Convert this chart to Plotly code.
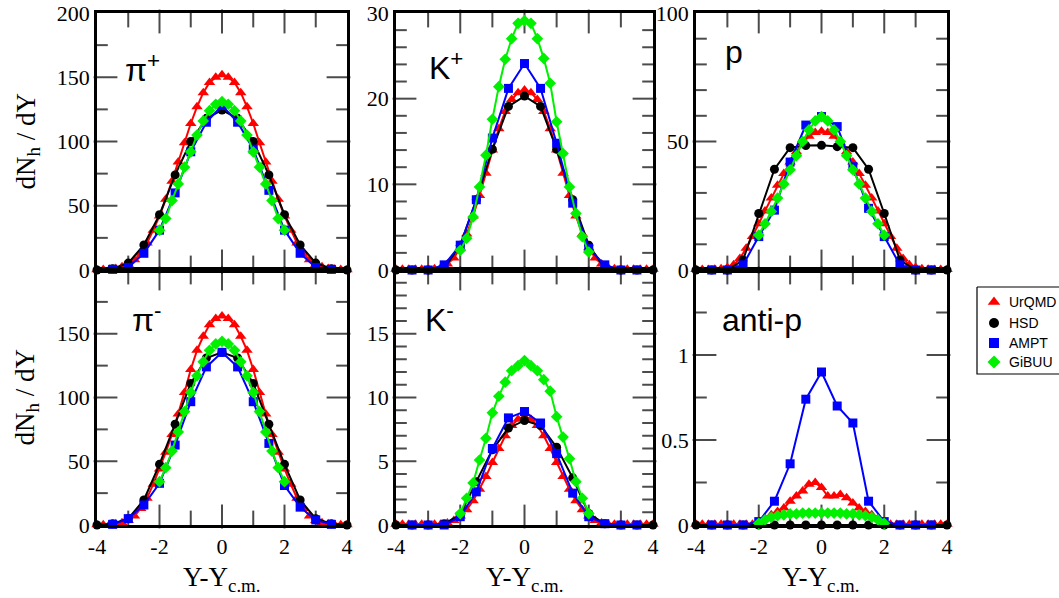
import plotly.graph_objects as go

# ---------------- data ----------------
X_UR = [-4.0, -3.8, -3.6, -3.4, -3.2, -3.0, -2.8, -2.6, -2.4, -2.2, -2.0, -1.8, -1.6, -1.4, -1.2, -1.0,
        -0.8, -0.6, -0.4, -0.2, 0.0, 0.2, 0.4, 0.6, 0.8, 1.0, 1.2, 1.4, 1.6, 1.8, 2.0, 2.2, 2.4, 2.6,
        2.8, 3.0, 3.2, 3.4, 3.6, 3.8, 4.0]
X_HSD = [-4.0, -3.5, -3.0, -2.5, -2.0, -1.5, -1.0, -0.5, 0.0, 0.5, 1.0, 1.5, 2.0, 2.5, 3.0, 3.5, 4.0]
X_AMPT = [-3.5, -3.0, -2.5, -2.0, -1.5, -1.0, -0.5, 0.0, 0.5, 1.0, 1.5, 2.0, 2.5, 3.0, 3.5]
X_GIB = [-2.0, -1.8, -1.6, -1.4, -1.2, -1.0, -0.8, -0.6, -0.4, -0.2, 0.0, 0.2, 0.4, 0.6, 0.8, 1.0,
         1.2, 1.4, 1.6, 1.8, 2.0]

# pi+
UR_PIP = [0.2, 0.3, 0.6, 1.2, 2.5, 4.5, 8, 13, 21, 31, 42, 55, 69, 84, 99, 114, 127, 138, 146, 150, 152,
          150, 146, 138, 127, 114, 99, 84, 69, 55, 42, 31, 21, 13, 8, 4.5, 2.5, 1.2, 0.6, 0.3, 0.2]
HSD_PIP = [0, 1, 5.4, 19.5, 43, 74, 100, 118, 124.5, 118, 100, 74, 43, 19.5, 5.4, 1, 0]
AMPT_PIP = [0.5, 2, 13, 31, 60, 92, 115, 128, 115, 94, 62, 31, 13, 2, 0.5]
GIB_PIP = [31, 40, 54, 67, 80, 92, 105, 116, 124, 129, 131, 129, 124, 116, 105, 92, 80, 67, 54, 40, 31]

# K+
UR_KP = [0.1, 0.1, 0.1, 0.1, 0.1, 0.1, 0.15, 0.3, 0.7, 1.4, 2.6, 4.2, 6.3, 8.7, 11.3, 14, 16.5, 18.5, 19.9,
         20.7, 21, 20.7, 19.9, 18.5, 16.5, 14, 11.3, 8.7, 6.3, 4.2, 2.6, 1.4, 0.7, 0.3, 0.15, 0.1, 0.1,
         0.1, 0.1, 0.1, 0.1]
HSD_KP = [0, 0, 0, 0.2, 2.9, 8.2, 14.1, 19.1, 20.3, 19.1, 14.1, 8.2, 2.9, 0.2, 0, 0, 0]
AMPT_KP = [0, 0, 0.6, 2.9, 8.2, 15.4, 21.2, 24.1, 21.2, 14.8, 7.8, 2.5, 0.6, 0, 0]
GIB_KP = [2.3, 3.7, 6.2, 9.7, 13.4, 17.6, 21.4, 24.6, 27, 28.8, 29.1, 28.8, 27, 24.7, 21.8, 17.3, 13.6,
          9.7, 6.6, 3.9, 2.1]

# p
UR_P = [0.2, 0.2, 0.2, 0.3, 0.5, 1, 2, 4.5, 8.5, 13, 18, 23, 28, 33, 37.5, 42, 46, 49.5, 52, 53.5, 54,
        53.5, 52, 49.5, 46, 42, 37.5, 33, 28, 23, 18, 13, 8.5, 4.5, 2, 1, 0.5, 0.3, 0.2, 0.2, 0.2]
HSD_P = [0, 0, 0, 3.9, 22, 39.2, 47.6, 48.4, 48.5, 48, 47.6, 39.2, 22, 3.9, 0, 0, 0]
AMPT_P = [0, 0, 2, 13, 23.3, 42, 56.4, 59.7, 55.8, 40.2, 24, 13, 2, 0, 0]
GIB_P = [13.6, 18, 22.8, 28, 33.5, 39, 44.5, 50, 54.5, 58, 59.7, 58, 54.5, 50, 44.5, 39, 33.5, 28, 22.8,
         18, 13.6]

# pi-
UR_PIM = [0.2, 0.2, 0.4, 0.9, 1.8, 3.5, 7, 13, 21, 32, 44, 57, 71, 87, 104, 122, 137, 148, 157, 162, 164,
          162, 157, 148, 137, 122, 104, 87, 71, 57, 44, 32, 21, 13, 7, 3.5, 1.8, 0.9, 0.4, 0.2, 0.2]
HSD_PIM = [0, 1, 5, 19.6, 47.6, 79, 111, 131, 135.4, 131, 111, 79, 47.6, 19.6, 5, 1, 0]
AMPT_PIM = [0.5, 5, 15.7, 32.7, 62.7, 96.7, 124, 135.4, 124, 96.7, 64, 31, 14, 4, 0.5]
GIB_PIM = [34, 45, 58, 73, 89, 104, 117, 128, 137, 142, 144, 142, 137, 128, 117, 104, 89, 73, 58, 45, 34]

# K-
UR_KM = [0.05, 0.05, 0.05, 0.05, 0.05, 0.05, 0.05, 0.08, 0.15, 0.35, 0.7, 1.2, 1.9, 2.8, 3.8, 4.9, 6.0,
         7.0, 7.8, 8.3, 8.5, 8.3, 7.8, 7.0, 6.0, 4.9, 3.8, 2.8, 1.9, 1.2, 0.7, 0.35, 0.15, 0.08, 0.05,
         0.05, 0.05, 0.05, 0.05, 0.05, 0.05]
HSD_KM = [0, 0, 0, 0.1, 0.8, 3.4, 5.9, 7.6, 8.2, 7.8, 6.1, 3.7, 0.9, 0.1, 0, 0, 0]
AMPT_KM = [0, 0, 0, 0.65, 2.6, 6.0, 8.4, 8.9, 8.0, 5.6, 2.5, 0.65, 0.1, 0, 0]
GIB_KM = [0.9, 2.1, 3.3, 5.1, 6.8, 8.8, 10.1, 11.2, 12.1, 12.5, 12.9, 12.5, 12.1, 11.4, 10.5, 8.5, 6.9,
          5.2, 3.4, 2.1, 0.9]

# anti-p
UR_AP = [0.005, 0.005, 0.005, 0.005, 0.005, 0.005, 0.005, 0.005, 0.005, 0.005, 0.02, 0.04, 0.06, 0.08,
         0.1, 0.14, 0.17, 0.2, 0.24, 0.25, 0.22, 0.17, 0.17, 0.18, 0.16, 0.13, 0.1, 0.08, 0.06, 0.04, 0.02,
         0.005, 0.005, 0.005, 0.005, 0.005, 0.005, 0.005, 0.005, 0.005, 0.005]
HSD_AP = [0, 0, 0, 0, 0, 0, 0, 0, 0, 0, 0, 0, 0, 0, 0, 0, 0]
AMPT_AP = [0, 0, 0, 0.02, 0.14, 0.36, 0.74, 0.90, 0.70, 0.60, 0.14, 0.02, 0, 0, 0]
GIB_AP = [0.01, 0.03, 0.045, 0.055, 0.06, 0.065, 0.065, 0.07, 0.07, 0.07, 0.07, 0.07, 0.07, 0.07, 0.065,
          0.065, 0.06, 0.055, 0.045, 0.03, 0.01]

PANEL_LABELS = ["\u03c0<sup>+</sup>", "K<sup>+</sup>", "p", "\u03c0<sup>-</sup>", "K<sup>-</sup>", "anti-p"]
MODELS = ["UrQMD", "HSD", "AMPT", "GiBUU"]
Y_RANGES = [200, 30, 100, 200, 20, 1.5]
# labelled ticks (the top value of the lower row is hidden behind the upper row's 0)
Y_TICKVALS = [[0, 50, 100, 150, 200], [0, 10, 20, 30], [0, 50, 100],
              [0, 50, 100, 150], [0, 5, 10, 15], [0, 0.5, 1]]
Y_TICKTEXT = [["0", "50", "100", "150", "200"], ["0", "10", "20", "30"], ["0", "50", "100"],
              ["0", "50", "100", "150"], ["0", "5", "10", "15"], ["0", "0.5", "1"]]
Y_MAJOR = [50, 10, 50, 50, 5, 0.5]
Y_MINOR = [25, 2, 10, 25, 1, 0.25]
X_RANGE = [-4, 4]
X_TICKVALS = [-4, -2, 0, 2, 4]
X_TICKTEXT = ["-4", "-2", "0", "2", "4"]
X_MAJOR = 2
X_MINOR = 1

PANELS = [
    (UR_PIP, HSD_PIP, AMPT_PIP, GIB_PIP),
    (UR_KP, HSD_KP, AMPT_KP, GIB_KP),
    (UR_P, HSD_P, AMPT_P, GIB_P),
    (UR_PIM, HSD_PIM, AMPT_PIM, GIB_PIM),
    (UR_KM, HSD_KM, AMPT_KM, GIB_KM),
    (UR_AP, HSD_AP, AMPT_AP, GIB_AP),
]

# ---------------- styling ----------------
W, H = 1059, 598
COLORS = ["#ff0000", "#000000", "#0000ff", "#00f000"]
SYMBOLS = ["triangle-up", "circle", "square", "diamond"]
SIZES = [10, 9, 9, 9]
XS = [X_UR, X_HSD, X_AMPT, X_GIB]

COL_PX = [(97, 347), (396, 653), (696, 947)]
ROW_PX = [(13, 270), (270, 525)]
MAJ_LEN, MIN_LEN, X_MIN_LEN = 17, 9, 12

SERIF = "Liberation Serif, Times New Roman, serif"
SANS = "Liberation Sans, Arial, sans-serif"


def steps(lo, hi, step):
    n = int(round((hi - lo) / step))
    return [lo + i * step for i in range(n + 1)]


fig = go.Figure()

for p, series in enumerate(PANELS):
    ax = p + 1
    sfx = "" if ax == 1 else str(ax)
    r, c = divmod(p, 3)
    x0, x1 = COL_PX[c]
    y0, y1 = ROW_PX[r]
    pw, ph = x1 - x0, y1 - y0
    top = Y_RANGES[p]
    xspan = X_RANGE[1] - X_RANGE[0]

    # inward tick marks drawn as line-symbol markers in the panel's own data space
    vx, vy, vs = [], [], []   # vertical ticks on bottom/top edges
    for v in steps(X_RANGE[0], X_RANGE[1], X_MINOR):
        if v in X_RANGE:
            continue
        ln = MAJ_LEN if (v % X_MAJOR == 0) else X_MIN_LEN
        off = (ln / 2) / ph * top
        vx += [v, v]
        vy += [off, top - off]
        vs += [ln, ln]
    hx, hy, hs = [], [], []   # horizontal ticks on left/right edges
    for i, v in enumerate(steps(0, top, Y_MINOR[p])):
        if i == 0 or abs(v - top) < 1e-9:
            continue
        q = v / Y_MAJOR[p]
        ln = MAJ_LEN if abs(q - round(q)) < 1e-6 else MIN_LEN
        off = (ln / 2) / pw * xspan
        hx += [X_RANGE[0] + off, X_RANGE[1] - off]
        hy += [v, v]
        hs += [ln, ln]
    fig.add_trace(go.Scatter(
        x=vx, y=vy, mode="markers", xaxis=f"x{sfx}", yaxis=f"y{sfx}",
        marker=dict(symbol="line-ns", size=vs, color="black", line=dict(color="black", width=2)),
        showlegend=False, hoverinfo="skip", cliponaxis=False,
    ))
    fig.add_trace(go.Scatter(
        x=hx, y=hy, mode="markers", xaxis=f"x{sfx}", yaxis=f"y{sfx}",
        marker=dict(symbol="line-ew", size=hs, color="black", line=dict(color="black", width=2)),
        showlegend=False, hoverinfo="skip", cliponaxis=False,
    ))

    for m in range(4):
        fig.add_trace(go.Scatter(
            x=XS[m], y=series[m], mode="lines+markers",
            line=dict(color=COLORS[m], width=2),
            marker=dict(symbol=SYMBOLS[m], size=SIZES[m], color=COLORS[m], line=dict(width=0)),
            xaxis=f"x{sfx}", yaxis=f"y{sfx}", showlegend=False, cliponaxis=False,
        ))

# custom legend (overlay axis in pixel units)
LEG_BOX = (977, 287, 1066, 374)
LEG_SYM_X = 994
LEG_TEXT_X = 1007
LEG_ROWS_Y = [302, 323, 343, 362]
fig.add_trace(go.Scatter(
    x=[LEG_BOX[0], LEG_BOX[2], LEG_BOX[2], LEG_BOX[0], LEG_BOX[0]],
    y=[LEG_BOX[1], LEG_BOX[1], LEG_BOX[3], LEG_BOX[3], LEG_BOX[1]],
    mode="lines", line=dict(color="black", width=1.2),
    xaxis="x7", yaxis="y7", showlegend=False, hoverinfo="skip", cliponaxis=False,
))
for m in range(4):
    fig.add_trace(go.Scatter(
        x=[LEG_SYM_X], y=[LEG_ROWS_Y[m]], mode="markers",
        marker=dict(symbol=SYMBOLS[m], size=SIZES[m] + 1, color=COLORS[m], line=dict(width=0)),
        xaxis="x7", yaxis="y7", showlegend=False, hoverinfo="skip", cliponaxis=False,
    ))

layout = dict(
    template="none",
    width=W, height=H,
    margin=dict(l=0, r=0, t=0, b=0, pad=0, autoexpand=False),
    paper_bgcolor="white", plot_bgcolor="rgba(0,0,0,0)",
    showlegend=False,
    xaxis7=dict(domain=[0, 1], range=[0, W], visible=False, anchor="y7", fixedrange=True),
    yaxis7=dict(domain=[0, 1], range=[H, 0], visible=False, anchor="x7", fixedrange=True),
)

annotations = []
for m in range(4):
    annotations.append(dict(
        text=MODELS[m], xref="paper", yref="paper", x=LEG_TEXT_X / W, y=1 - LEG_ROWS_Y[m] / H,
        xanchor="left", yanchor="middle", showarrow=False,
        font=dict(family=SANS, size=14, color="black"),
    ))

for p in range(6):
    ax = p + 1
    r, c = divmod(p, 3)
    x0, x1 = COL_PX[c]
    y0, y1 = ROW_PX[r]
    sfx = "" if ax == 1 else str(ax)
    layout[f"xaxis{sfx}"] = dict(
        domain=[x0 / W, x1 / W], anchor=f"y{sfx}", range=X_RANGE, automargin=False,
        showline=True, linecolor="black", linewidth=2.5, mirror=True,
        ticks="", tickmode="array", tickvals=X_TICKVALS, ticktext=X_TICKTEXT,
        showticklabels=(r == 1), tickfont=dict(family=SERIF, size=22, color="black"),
        showgrid=False, zeroline=False, fixedrange=True,
    )
    layout[f"yaxis{sfx}"] = dict(
        domain=[1 - y1 / H, 1 - y0 / H], anchor=f"x{sfx}", range=[0, Y_RANGES[p]], automargin=False,
        showline=True, linecolor="black", linewidth=2.5, mirror=True,
        ticks="", tickmode="array", tickvals=Y_TICKVALS[p], ticktext=Y_TICKTEXT[p],
        tickfont=dict(family=SERIF, size=22, color="black"),
        showgrid=False, zeroline=False, fixedrange=True,
    )

# panel labels
LABEL_POS = [(123, 68), (427, 66), (723, 52), (130, 318), (423, 318), (720, 320)]
for p in range(6):
    lx, ly = LABEL_POS[p]
    annotations.append(dict(
        text=PANEL_LABELS[p], xref="paper", yref="paper", x=lx / W, y=1 - ly / H,
        xanchor="left", yanchor="middle", showarrow=False,
        font=dict(family=SANS, size=32, color="black"),
    ))

# axis titles
for r in range(2):
    y0, y1 = ROW_PX[r]
    annotations.append(dict(
        text="dN<sub>h</sub> / dY", xref="paper", yref="paper",
        x=27 / W, y=1 - ((y0 + y1) / 2) / H, xanchor="center", yanchor="middle",
        textangle=-90, showarrow=False,
        font=dict(family=SERIF, size=27, color="black"),
    ))
for c in range(3):
    x0, x1 = COL_PX[c]
    annotations.append(dict(
        text="Y-Y<sub>c.m.</sub>", xref="paper", yref="paper",
        x=((x0 + x1) / 2) / W, y=1 - 579 / H, xanchor="center", yanchor="middle",
        showarrow=False, font=dict(family=SERIF, size=27, color="black"),
    ))

layout["annotations"] = annotations
fig.update_layout(**layout)
fig.write_html("out.html", config={"displayModeBar": False},
               post_script="document.body.style.margin='0px';")
